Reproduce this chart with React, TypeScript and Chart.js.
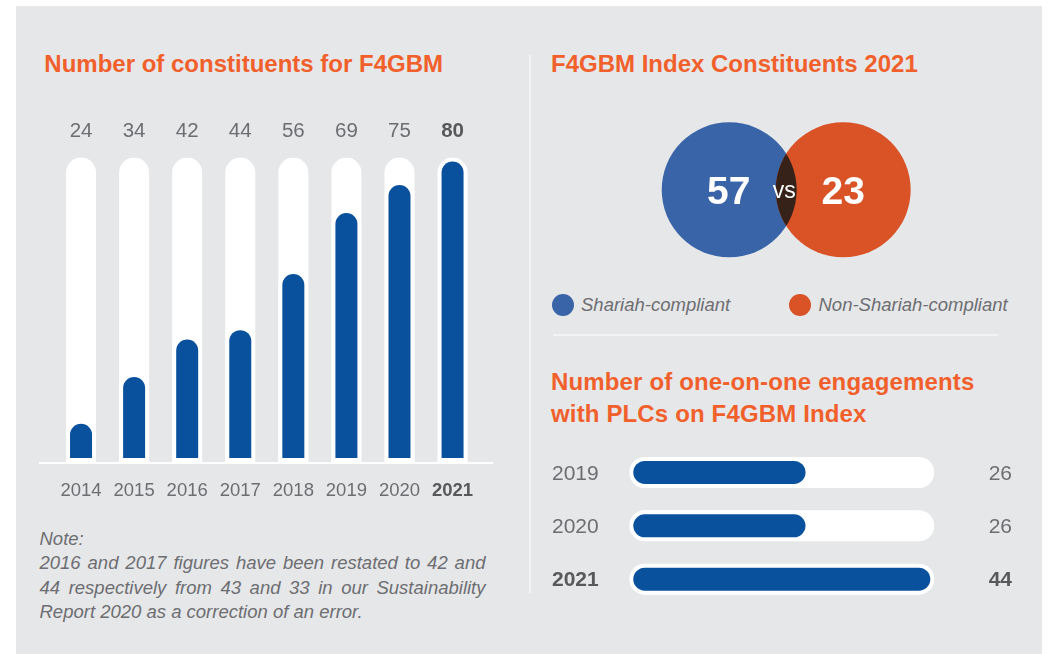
import React, { useEffect, useRef } from 'react';
import { Chart, registerables } from 'chart.js';

Chart.register(...registerables);

// ---------- data ----------
const constituentYears = ['2014', '2015', '2016', '2017', '2018', '2019', '2020', '2021'];
const constituentCounts = [24, 34, 42, 44, 56, 69, 75, 80];

const vennLabels = ['Shariah-compliant', 'Non-Shariah-compliant'];
const vennCounts = [57, 23];

const engagementYears = ['2019', '2020', '2021'];
const engagementCounts = [26, 26, 44];

// ---------- styles ----------
const FONT = '"Liberation Sans", Arial, Helvetica, sans-serif';
const ORANGE = '#f1602b';
const GRAY = '#6d6e71';
const GRAY_DARK = '#58595b';
const BLUE = '#0a519d';
const VENN_COLORS = ['#3a64a8', '#d95326'];
const LENS = '#37221a';
const PANEL = '#e6e7e9';

const Y_MIN = 15;

const colLabelsPlugin = {
  id: 'colLabels',
  afterDraw(chart: any) {
    const { ctx, scales } = chart;
    const x = scales.x;
    const y = scales.y;
    ctx.save();
    ctx.textAlign = 'center';
    ctx.textBaseline = 'alphabetic';
    constituentYears.forEach((yr, i) => {
      const px = x.getPixelForValue(i);
      const last = i === constituentYears.length - 1;
      ctx.fillStyle = last ? GRAY_DARK : GRAY;
      ctx.font = `${last ? 'bold ' : ''}20.5px ${FONT}`;
      ctx.fillText(String(constituentCounts[i]), px, y.top - 20.8);
      ctx.font = `${last ? 'bold ' : ''}18.5px ${FONT}`;
      ctx.fillText(yr, px, y.bottom + 34);
    });
    ctx.restore();
  },
};

const rowLabelsPlugin = {
  id: 'rowLabels',
  afterDraw(chart: any) {
    const { ctx, scales } = chart;
    const x = scales.x;
    const y = scales.y;
    ctx.save();
    ctx.textBaseline = 'alphabetic';
    engagementYears.forEach((yr, i) => {
      const py = y.getPixelForValue(i);
      const last = i === engagementYears.length - 1;
      ctx.fillStyle = last ? GRAY_DARK : GRAY;
      ctx.font = `${last ? 'bold ' : ''}21px ${FONT}`;
      ctx.textAlign = 'left';
      ctx.fillText(yr, x.left - 77.3, py + 7.3);
      ctx.textAlign = 'right';
      ctx.fillText(String(engagementCounts[i]), x.right + 77.7, py + 7.3);
    });
    ctx.restore();
  },
};

const vennPlugin = {
  id: 'vennLens',
  afterDatasetsDraw(chart: any) {
    const { ctx } = chart;
    const meta = chart.getDatasetMeta(0);
    const a = meta.data[0];
    const b = meta.data[1];
    const r = 67.5;
    ctx.save();
    ctx.beginPath();
    ctx.arc(a.x, a.y, r, 0, Math.PI * 2);
    ctx.clip();
    ctx.beginPath();
    ctx.arc(b.x, b.y, r, 0, Math.PI * 2);
    ctx.fillStyle = LENS;
    ctx.fill();
    ctx.restore();

    ctx.save();
    ctx.fillStyle = '#ffffff';
    ctx.textAlign = 'center';
    ctx.textBaseline = 'alphabetic';
    ctx.font = `bold 39px ${FONT}`;
    ctx.fillText(String(vennCounts[0]), a.x - 0.5, a.y + 14.2);
    ctx.fillText(String(vennCounts[1]), b.x, b.y + 14.2);
    ctx.font = `23px ${FONT}`;
    ctx.fillText('vs', (a.x + b.x) / 2 - 2, a.y + 8.2);
    ctx.restore();
  },
};

function useChart(ref: React.RefObject<HTMLCanvasElement>, make: (c: HTMLCanvasElement) => Chart) {
  useEffect(() => {
    if (!ref.current) return;
    const chart = make(ref.current);
    return () => chart.destroy();
  }, []);
}

export default function App() {
  const colRef = useRef<HTMLCanvasElement>(null);
  const vennRef = useRef<HTMLCanvasElement>(null);
  const rowRef = useRef<HTMLCanvasElement>(null);

  useChart(colRef, (c) => {
    const maxC = Math.max(...constituentCounts);
    return new Chart(c, {
      type: 'bar',
      data: {
        labels: constituentYears,
        datasets: [
          {
            data: constituentCounts,
            backgroundColor: BLUE,
            borderColor: '#ffffff',
            borderWidth: 4,
            borderSkipped: false,
            borderRadius: { topLeft: 15, topRight: 15, bottomLeft: 0, bottomRight: 0 },
            barThickness: 30,
            grouped: false,
            inflateAmount: 0,
            base: Y_MIN,
            order: 0,
          } as any,
          {
            data: constituentYears.map(() => maxC),
            backgroundColor: '#ffffff',
            borderWidth: 0,
            borderRadius: { topLeft: 15, topRight: 15, bottomLeft: 0, bottomRight: 0 },
            barThickness: 30,
            grouped: false,
            inflateAmount: 0,
            base: Y_MIN,
            order: 1,
          } as any,
        ],
      },
      options: {
        responsive: false,
        animation: false,
        events: [],
        layout: { autoPadding: false, padding: { left: 14.5, right: 15.9, top: 57.5, bottom: 48 } } as any,
        plugins: { legend: { display: false }, tooltip: { enabled: false } },
        scales: {
          x: { display: false },
          y: { display: false, min: Y_MIN, max: maxC },
        },
      },
      plugins: [colLabelsPlugin],
    });
  });

  useChart(vennRef, (c) =>
    new Chart(c, {
      type: 'scatter',
      data: {
        labels: vennLabels,
        datasets: [
          {
            data: vennLabels.map((l) => ({ x: l, y: 0 })) as any,
            pointRadius: 67.5,
            pointHoverRadius: 67.5,
            pointBackgroundColor: VENN_COLORS,
            backgroundColor: VENN_COLORS,
            pointBorderWidth: 0,
            borderWidth: 0,
            clip: false as any,
          } as any,
        ],
      },
      options: {
        responsive: false,
        animation: false,
        events: [],
        layout: { autoPadding: false, padding: { left: 32.2, right: 39.8, top: 30, bottom: 30.4 } } as any,
        plugins: { legend: { display: false }, tooltip: { enabled: false } },
        scales: {
          x: { type: 'category', display: false, offset: true } as any,
          y: { display: false, min: -1, max: 1 },
        },
      },
      plugins: [vennPlugin],
    })
  );

  useChart(rowRef, (c) => {
    const maxE = Math.max(...engagementCounts);
    return new Chart(c, {
      type: 'bar',
      data: {
        labels: engagementYears,
        datasets: [
          {
            data: engagementCounts,
            backgroundColor: BLUE,
            borderColor: '#ffffff',
            borderWidth: 4,
            borderSkipped: false,
            borderRadius: 15.5,
            barThickness: 31,
            grouped: false,
            inflateAmount: 0,
            order: 0,
          } as any,
          {
            data: engagementYears.map(() => maxE),
            backgroundColor: '#ffffff',
            borderWidth: 0,
            borderSkipped: false,
            borderRadius: 15.5,
            barThickness: 31,
            grouped: false,
            inflateAmount: 0,
            order: 1,
          } as any,
        ],
      },
      options: {
        indexAxis: 'y',
        responsive: false,
        animation: false,
        events: [],
        layout: { autoPadding: false, padding: { left: 89.3, right: 95.7, top: 5.8, bottom: 14.2 } } as any,
        plugins: { legend: { display: false }, tooltip: { enabled: false } },
        scales: {
          x: { display: false, min: 0, max: maxE },
          y: { display: false },
        },
      },
      plugins: [rowLabelsPlugin],
    });
  });

  const abs = (s: React.CSSProperties): React.CSSProperties => ({ position: 'absolute', ...s });
  const titleStyle: React.CSSProperties = {
    fontFamily: FONT,
    fontWeight: 'bold',
    fontSize: 24,
    color: ORANGE,
    whiteSpace: 'nowrap',
  };
  const legendText: React.CSSProperties = {
    fontFamily: FONT,
    fontStyle: 'italic',
    fontSize: 18.5,
    lineHeight: '20px',
    color: GRAY,
    whiteSpace: 'nowrap',
  };
  const justified: React.CSSProperties = { textAlign: 'justify', textAlignLast: 'justify', whiteSpace: 'nowrap' } as any;

  return (
    <div style={abs({ left: 0, top: 0, width: 1049, height: 654, overflow: 'hidden', background: '#ffffff' })}>
      <div style={abs({ left: 16, top: 6, width: 1026, height: 648, background: PANEL })} />

      <div style={abs({ ...titleStyle, left: 44.3, top: 52, lineHeight: '24px' })}>Number of constituents for F4GBM</div>
      <div style={abs({ ...titleStyle, left: 551, top: 52, lineHeight: '24px' })}>F4GBM Index Constituents 2021</div>
      <div style={abs({ ...titleStyle, left: 551, top: 365.8, lineHeight: '31.7px', letterSpacing: 0.15 })}>
        <div>Number of one-on-one engagements</div>
        <div>with PLCs on F4GBM Index</div>
      </div>

      <div style={abs({ left: 528.5, top: 55, width: 2, height: 538, background: '#f3f3f4' })} />
      <div style={abs({ left: 553, top: 334, width: 445, height: 2, background: '#f3f3f4' })} />

      <canvas ref={colRef} width={455} height={410} style={abs({ left: 40, top: 100, width: 455, height: 410 })} />
      <div style={abs({ left: 39, top: 462, width: 454, height: 2, background: '#ffffff' })} />

      <canvas ref={vennRef} width={300} height={180} style={abs({ left: 640, top: 100, width: 300, height: 180 })} />

      <div style={abs({ left: 551.7, top: 294, width: 22, height: 22, borderRadius: '50%', background: VENN_COLORS[0] })} />
      <div style={abs({ ...legendText, left: 581, top: 294.6 })}>{vennLabels[0]}</div>
      <div style={abs({ left: 789.3, top: 294, width: 22, height: 22, borderRadius: '50%', background: VENN_COLORS[1] })} />
      <div style={abs({ ...legendText, left: 818.5, top: 294.6 })}>{vennLabels[1]}</div>

      <canvas ref={rowRef} width={490} height={180} style={abs({ left: 540, top: 440, width: 490, height: 180 })} />

      <div
        style={abs({
          left: 39.5,
          top: 527.1,
          width: 446,
          fontFamily: FONT,
          fontStyle: 'italic',
          fontSize: 18.5,
          lineHeight: '24.3px',
          color: GRAY,
        })}
      >
        <div>Note:</div>
        <div style={justified}>2016 and 2017 figures have been restated to 42 and</div>
        <div style={justified}>44 respectively from 43 and 33 in our Sustainability</div>
        <div style={{ whiteSpace: 'nowrap' }}>Report 2020 as a correction of an error.</div>
      </div>
    </div>
  );
}
